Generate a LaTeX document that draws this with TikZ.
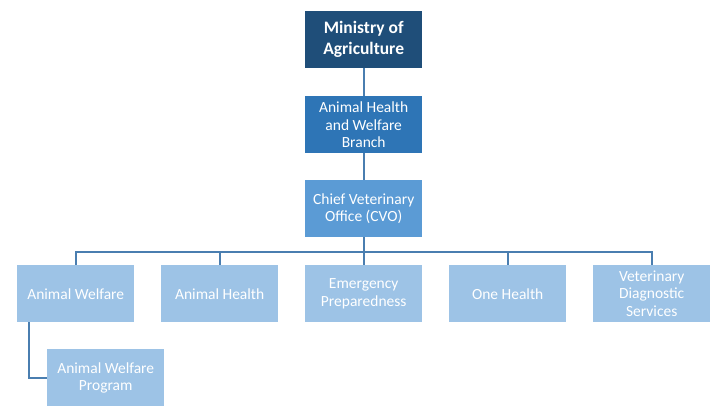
\documentclass[tikz,border=0pt]{standalone}
\usepackage{fontspec}
\setmainfont{Carlito}
\definecolor{navy}{HTML}{1F4E79}
\definecolor{midblue}{HTML}{2E75B6}
\definecolor{cvoblue}{HTML}{5B9BD5}
\definecolor{lightblue}{HTML}{9DC3E6}
\definecolor{linecol}{HTML}{4A7EB0}
\begin{document}
\begin{tikzpicture}[x=1pt,y=-1pt,
  box/.style={minimum width=117pt,minimum height=57pt,inner sep=2pt,align=center,text=white,font=\fontsize{15.5}{17.5}\selectfont,anchor=north west},
  conn/.style={draw=linecol,line width=1.6pt}]
\useasboundingbox (0,0) rectangle (727,419);
\node[box,fill=navy,font=\fontsize{17.5}{21}\selectfont\bfseries] (min) at (305,11) {Ministry of\\Agriculture};
\node[box,fill=midblue] (ahwb) at (305,96) {Animal Health\\and Welfare\\Branch};
\node[box,fill=cvoblue] (cvo) at (305,180) {Chief Veterinary\\Office (CVO)};
\node[box,fill=lightblue] (aw) at (17,265) {Animal Welfare};
\node[box,fill=lightblue] (ah) at (161,265) {Animal Health};
\node[box,fill=lightblue] (ep) at (305,265) {Emergency\\Preparedness};
\node[box,fill=lightblue] (oh) at (449,265) {One Health};
\node[box,fill=lightblue] (vds) at (593,265) {Veterinary\\Diagnostic\\Services};
\node[box,fill=lightblue] (awp) at (47,349) {Animal Welfare\\Program};
\coordinate (bar) at (0,252);
\draw[conn] (min.south) -- (ahwb.north);
\draw[conn] (ahwb.south) -- (cvo.north);
\draw[conn] (cvo.south) -- (ep.north);
\draw[conn] (aw.north) |- (bar -| vds.north) -- (vds.north);
\draw[conn] (ah.north) -- (ah.north |- bar);
\draw[conn] (oh.north) -- (oh.north |- bar);
\draw[conn] ([xshift=-47pt]aw.south) |- (awp.west);
\end{tikzpicture}
\end{document}
